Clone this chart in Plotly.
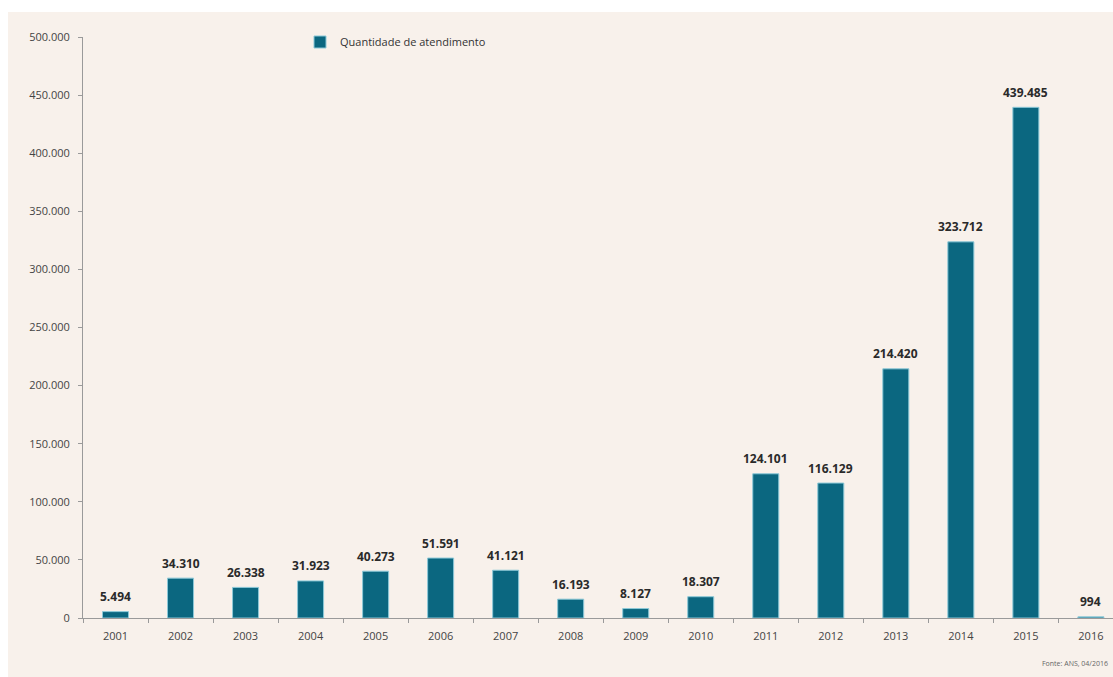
import plotly.graph_objects as go

years = ["2001", "2002", "2003", "2004", "2005", "2006", "2007", "2008",
         "2009", "2010", "2011", "2012", "2013", "2014", "2015", "2016"]
values = [5494, 34310, 26338, 31923, 40273, 51591, 41121, 16193,
          8127, 18307, 124101, 116129, 214420, 323712, 439485, 994]
labels = ["5.494", "34.310", "26.338", "31.923", "40.273", "51.591", "41.121", "16.193",
          "8.127", "18.307", "124.101", "116.129", "214.420", "323.712", "439.485", "994"]
y_tickvals = [0, 50000, 100000, 150000, 200000, 250000, 300000, 350000, 400000, 450000, 500000]
y_ticktext = ["0", "50.000", "100.000", "150.000", "200.000", "250.000", "300.000",
              "350.000", "400.000", "450.000", "500.000"]

W, H = 1113, 677
ML, MR, MT, MB = 83, 0, 37, 59
pw = W - ML - MR
ph = H - MT - MB

BAR = "#0b6780"
BG = "#f8f1eb"
FONT = "Open Sans, Liberation Sans, sans-serif"

fig = go.Figure()
fig.add_trace(go.Bar(
    x=years, y=values, name="Quantidade de atendimento",
    marker=dict(color=BAR, line=dict(color="#8cc9d8", width=1)),
    width=0.4,
))

annotations = []
for i, (v, t) in enumerate(zip(values, labels)):
    annotations.append(dict(
        x=i, y=v, text="<b>" + t + "</b>", showarrow=False,
        xref="x", yref="y", yanchor="middle", yshift=15,
        font=dict(family=FONT, size=12, color="#2a2a2a"),
    ))
annotations.append(dict(
    x=(1110 - ML) / pw, y=(MT + ph - 663) / ph, xref="paper", yref="paper",
    xanchor="right", yanchor="middle", showarrow=False,
    text="Fonte: ANS, 04/2016", font=dict(family=FONT, size=7, color="#666666"),
))

shapes = [
    dict(type="rect", xref="paper", yref="paper", layer="below",
         x0=-ML / pw, x1=1.05, y0=(MT + ph - 12) / ph, y1=(MT + ph) / ph,
         fillcolor="white", line=dict(width=0)),
    dict(type="rect", xref="paper", yref="paper", layer="below",
         x0=-ML / pw, x1=(8 - ML) / pw, y0=-MB / ph - 0.02, y1=(MT + ph) / ph,
         fillcolor="white", line=dict(width=0)),
]

fig.update_layout(
    width=W, height=H,
    margin=dict(l=ML, r=MR, t=MT, b=MB, pad=0),
    paper_bgcolor=BG, plot_bgcolor=BG,
    font=dict(family=FONT, size=11, color="#444444"),
    showlegend=True,
    legend=dict(x=(300 - ML) / pw, y=(MT + ph - 42) / ph, xanchor="left", yanchor="middle",
                itemwidth=30,
                bgcolor="rgba(0,0,0,0)", font=dict(family=FONT, size=11, color="#333333")),
    bargap=0.6,
    xaxis=dict(
        type="category", range=[-0.5, 15.34],
        showline=True, linecolor="#9a9a9a", linewidth=1,
        ticks="outside", ticklen=4, tickcolor="#9a9a9a", tickson="boundaries",
        ticklabelstandoff=8,
        showgrid=False, tickfont=dict(size=11, color="#444444"),
    ),
    yaxis=dict(
        range=[0, 500000], tickvals=y_tickvals, ticktext=y_ticktext,
        showline=True, linecolor="#9a9a9a", linewidth=1,
        ticks="outside", ticklen=4, tickcolor="#9a9a9a",
        ticklabelstandoff=6,
        showgrid=False, zeroline=False, tickfont=dict(size=11, color="#444444"),
    ),
    annotations=annotations,
    shapes=shapes,
)

fig.write_html("out.html")
